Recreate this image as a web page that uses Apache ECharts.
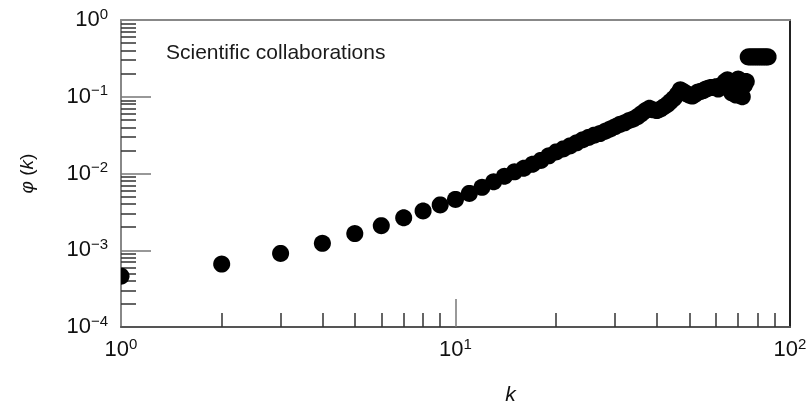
<!DOCTYPE html>
<html>
<head>
<meta charset="utf-8">
<script src="https://cdn.jsdelivr.net/npm/echarts@6/dist/echarts.min.js"></script>
<style>
html, body { margin: 0; padding: 0; background: #fff; }
#chart { width: 808px; height: 405px; }
</style>
</head>
<body>
<div id="chart"></div>
<script>
// Degree k and phi(k) for the collaboration network
const kValues = [
  1, 2, 3, 4, 5, 6, 7, 8, 9, 10,
  11, 12, 13, 14, 15, 16, 17, 18, 19, 20,
  21, 22, 23, 24, 25, 26, 27, 28, 29, 30,
  31, 32, 33, 34, 35, 36, 37, 38, 39, 40,
  41, 42, 43, 44, 45, 46, 47, 48, 49, 50,
  51, 52, 53, 54, 55, 56, 57, 58, 59, 60,
  61, 62, 63, 64, 65, 66, 67, 68, 69, 70,
  71, 72, 73, 74, 75, 76, 77, 78, 79, 80,
  81, 82, 83, 84, 85, 86
];
const phiValues = [
  4.6e-4, 6.6e-4, 9.1e-4, 1.23e-3, 1.65e-3, 2.09e-3, 2.65e-3, 3.25e-3, 3.9e-3, 4.6e-3,
  5.5e-3, 6.6e-3, 7.8e-3, 9.2e-3, 1.05e-2, 1.17e-2, 1.32e-2, 1.48e-2, 1.70e-2, 1.91e-2,
  2.09e-2, 2.29e-2, 2.51e-2, 2.75e-2, 2.95e-2, 3.16e-2, 3.31e-2, 3.55e-2, 3.80e-2, 4.07e-2,
  4.37e-2, 4.57e-2, 4.90e-2, 5.13e-2, 5.50e-2, 6.03e-2, 6.61e-2, 7.08e-2, 6.76e-2, 6.61e-2,
  6.92e-2, 7.41e-2, 7.94e-2, 8.71e-2, 9.55e-2, 0.107, 0.123, 0.117, 0.110, 0.105,
  0.102, 0.107, 0.115, 0.117, 0.120, 0.126, 0.129, 0.132, 0.132, 0.135,
  0.126, 0.138, 0.145, 0.158, 0.166, 0.141, 0.112, 0.158, 0.105, 0.170,
  0.162, 0.100, 0.141, 0.158, 0.33, 0.33, 0.33, 0.33, 0.33, 0.33,
  0.33, 0.33, 0.33, 0.33, 0.33, 0.33
];

// Axis ranges and tick positions
const xRange = [1, 100];
const yRange = [1e-4, 1];
const xMajorLabels = [1, 10, 100];
const yMajorLabels = [1e-4, 1e-3, 1e-2, 1e-1, 1];
const xMajorTicks = [10];
const yMajorTicks = [1e-3, 1e-2, 1e-1];
const minorMultipliers = [2, 3, 4, 5, 6, 7, 8, 9];
const xDecades = [1, 10];
const yDecades = [1e-4, 1e-3, 1e-2, 1e-1];
const titleText = 'Scientific collaborations';

const FONT = '"Liberation Sans", Arial, sans-serif';
const MARKER_R = 8.5;
const MARKER_SEGMENTS = 40;

const xMinorTicks = [];
xDecades.forEach(d => minorMultipliers.forEach(m => xMinorTicks.push(+(m * d).toPrecision(6))));
const yMinorTicks = [];
yDecades.forEach(d => minorMultipliers.forEach(m => yMinorTicks.push(+(m * d).toPrecision(6))));

const points = kValues.map((k, i) => [k, phiValues[i]]);

function powerLabel(v) {
  const e = Math.round(Math.log10(v));
  const exp = e < 0 ? '\u2212' + (-e) : String(e);
  return '{b|10}{s|' + exp + '}';
}
const labelRich = {
  b: { fontFamily: FONT, fontSize: 22, color: '#111', lineHeight: 26 },
  s: { fontFamily: FONT, fontSize: 15, color: '#111', lineHeight: 14, verticalAlign: 'top' }
};

// Disc outline clamped to the plot rectangle, so markers on the frame are cut off there
function clippedDisc(cx, cy, r, x0, x1, y0, y1) {
  const pts = [];
  for (let i = 0; i < MARKER_SEGMENTS; i++) {
    const a = (i / MARKER_SEGMENTS) * Math.PI * 2;
    const px = Math.min(x1, Math.max(x0, cx + r * Math.cos(a)));
    const py = Math.min(y1, Math.max(y0, cy + r * Math.sin(a)));
    pts.push([px, py]);
  }
  return pts;
}

const gridRect = { left: 121, right: 18, top: 20, bottom: 78, containLabel: false, outerBoundsMode: 'none' };

const chart = echarts.init(document.getElementById('chart'), null, { renderer: 'canvas' });
chart.setOption({
  animation: false,
  backgroundColor: '#fff',
  title: {
    text: titleText,
    left: 166,
    top: 43,
    padding: 0,
    textStyle: { fontFamily: FONT, fontSize: 21, fontWeight: 'normal', color: '#1a1a1a' }
  },
  grid: [
    Object.assign({}, gridRect),
    Object.assign({}, gridRect)
  ],
  xAxis: [
    {
      // minor ticks along the bottom edge
      gridIndex: 0, type: 'log', logBase: 10, min: xRange[0], max: xRange[1],
      position: 'bottom',
      axisLine: { show: true, lineStyle: { color: '#555', width: 2 } },
      axisTick: { show: true, inside: true, length: 14, customValues: xMinorTicks,
                  lineStyle: { color: '#333', width: 1.5 } },
      axisLabel: { show: false },
      splitLine: { show: false }
    },
    {
      // decade ticks, labels and axis name
      gridIndex: 1, type: 'log', logBase: 10, min: xRange[0], max: xRange[1],
      position: 'bottom',
      axisLine: { show: false },
      axisTick: { show: true, inside: true, length: 28, customValues: xMajorTicks,
                  lineStyle: { color: '#777', width: 1.5 } },
      axisLabel: { show: true, customValues: xMajorLabels, margin: 10,
                   formatter: powerLabel, rich: labelRich },
      splitLine: { show: false },
      name: 'k',
      nameLocation: 'middle',
      nameGap: 58,
      nameTextStyle: { fontFamily: FONT, fontSize: 21, fontStyle: 'italic', color: '#111',
                       padding: [0, 0, 0, 110] }
    },
    {
      // top frame line
      gridIndex: 1, type: 'log', logBase: 10, min: xRange[0], max: xRange[1],
      position: 'top',
      axisLine: { show: true, lineStyle: { color: '#888', width: 2 } },
      axisTick: { show: false },
      axisLabel: { show: false },
      splitLine: { show: false }
    }
  ],
  yAxis: [
    {
      gridIndex: 0, type: 'log', logBase: 10, min: yRange[0], max: yRange[1],
      position: 'left',
      axisLine: { show: true, lineStyle: { color: '#888', width: 2 } },
      axisTick: { show: true, inside: true, length: 15, customValues: yMinorTicks,
                  lineStyle: { color: '#333', width: 1.5 } },
      axisLabel: { show: false },
      splitLine: { show: false }
    },
    {
      gridIndex: 1, type: 'log', logBase: 10, min: yRange[0], max: yRange[1],
      position: 'left',
      axisLine: { show: false },
      axisTick: { show: true, inside: true, length: 30, customValues: yMajorTicks,
                  lineStyle: { color: '#777', width: 1.5 } },
      axisLabel: { show: true, customValues: yMajorLabels, margin: 13,
                   formatter: powerLabel, rich: labelRich },
      splitLine: { show: false },
      name: '{i|\u03c6} ({i|k})',
      nameLocation: 'middle',
      nameGap: 84,
      nameRotate: 90,
      nameTextStyle: {
        fontFamily: FONT, fontSize: 19, color: '#111',
        rich: { i: { fontFamily: FONT, fontSize: 19, fontStyle: 'italic', color: '#111' } }
      }
    },
    {
      // right frame line
      gridIndex: 1, type: 'log', logBase: 10, min: yRange[0], max: yRange[1],
      position: 'right',
      axisLine: { show: true, lineStyle: { color: '#222', width: 2 } },
      axisTick: { show: false },
      axisLabel: { show: false },
      splitLine: { show: false }
    }
  ],
  series: [
    {
      type: 'custom',
      xAxisIndex: 0,
      yAxisIndex: 0,
      data: points,
      renderItem: function (params, api) {
        const p = api.coord([api.value(0), api.value(1)]);
        const topLeft = api.coord([xRange[0], yRange[1]]);
        const bottomRight = api.coord([xRange[1], yRange[0]]);
        return {
          type: 'polygon',
          shape: {
            points: clippedDisc(p[0], p[1], MARKER_R,
                                topLeft[0], bottomRight[0], topLeft[1], bottomRight[1])
          },
          style: { fill: '#000' }
        };
      }
    }
  ]
});
</script>
</body>
</html>
